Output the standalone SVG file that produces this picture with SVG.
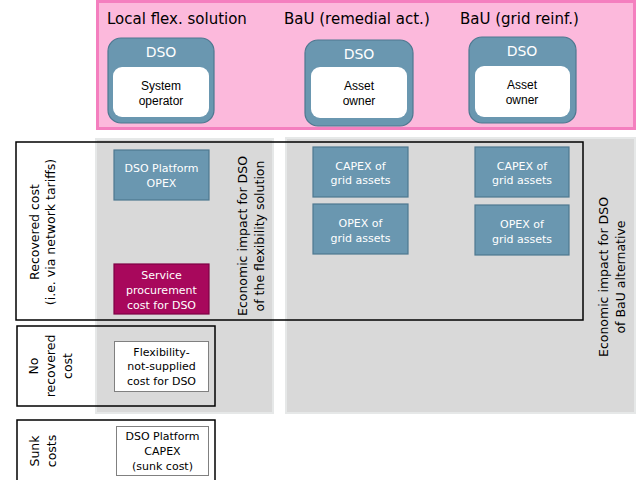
<svg xmlns="http://www.w3.org/2000/svg" width="638" height="480" viewBox="0 0 638 480">
<defs>
<style>
.hdr{font-family:"DejaVu Sans",sans-serif;font-size:15px;fill:#000}
.dso{font-family:"DejaVu Sans",sans-serif;font-size:14px;fill:#fff;text-anchor:middle}
.inner{font-family:"Liberation Sans",Arial,sans-serif;font-size:12px;fill:#000;text-anchor:middle}
.lbl{font-family:"DejaVu Sans",sans-serif;font-size:12.5px;fill:#000;text-anchor:middle}
.bt{font-family:"DejaVu Sans",sans-serif;font-size:11px;fill:#fff;text-anchor:middle}
.btk{font-family:"DejaVu Sans",sans-serif;font-size:11px;fill:#000;text-anchor:middle}
.blue{fill:#6a97b0;stroke:#4e7890;stroke-width:1.2}
.mag{fill:#a8085c;stroke:#7e0044;stroke-width:1.2}
.wbox{fill:#fff;stroke:#808080;stroke-width:1}
.col{fill:#d9d9d9;stroke:#e6e8e8;stroke-width:2}
.frame{fill:none;stroke:#000;stroke-width:1.5}
.dsobox{fill:#6a97b0;stroke:#4e7890;stroke-width:1.2}
</style>
</defs>
<rect width="638" height="480" fill="#fff"/>

<g id="header">
<rect x="97.5" y="1.5" width="537" height="127" fill="#fcb9dc" stroke="#f47fbf" stroke-width="3"/>
<text class="hdr" x="107" y="24">Local flex. solution</text>
<text class="hdr" x="284" y="24">BaU (remedial act.)</text>
<text class="hdr" x="460" y="24">BaU (grid reinf.)</text>
</g>

<g id="dso1">
<rect class="dsobox" x="108" y="38" width="106" height="85" rx="13"/>
<text class="dso" x="161" y="57">DSO</text>
<rect x="113" y="67" width="96" height="50" rx="9" fill="#fff"/>
<text class="inner" x="161" y="90">System</text>
<text class="inner" x="161" y="105">operator</text>
</g>
<g id="dso2">
<rect class="dsobox" x="305" y="40" width="108" height="86" rx="13"/>
<text class="dso" x="359" y="59">DSO</text>
<rect x="311" y="67" width="96" height="51" rx="9" fill="#fff"/>
<text class="inner" x="359" y="90">Asset</text>
<text class="inner" x="359" y="105">owner</text>
</g>
<g id="dso3">
<rect class="dsobox" x="469" y="37" width="107" height="86" rx="13"/>
<text class="dso" x="522" y="56">DSO</text>
<rect x="475" y="66" width="95" height="51" rx="9" fill="#fff"/>
<text class="inner" x="522" y="89">Asset</text>
<text class="inner" x="522" y="104">owner</text>
</g>

<g id="columns">
<rect class="col" x="96" y="139" width="177" height="274"/>
<rect class="col" x="286" y="138" width="349" height="275"/>
</g>

<g id="frames">
<rect class="frame" x="16" y="142" width="567" height="178"/>
<rect class="frame" x="17" y="326" width="198" height="80"/>
<rect class="frame" x="17" y="420" width="198" height="80"/>
</g>

<g id="row-labels">
<text class="lbl" transform="translate(39,232) rotate(-90)">Recovered cost</text>
<text class="lbl" transform="translate(55,232) rotate(-90)">(i.e. via network tariffs)</text>
<text class="lbl" transform="translate(38,366) rotate(-90)">No</text>
<text class="lbl" transform="translate(55,366) rotate(-90)">recovered</text>
<text class="lbl" transform="translate(72,366) rotate(-90)">cost</text>
<text class="lbl" transform="translate(39,451) rotate(-90)">Sunk</text>
<text class="lbl" transform="translate(56,451) rotate(-90)">costs</text>
</g>

<g id="col-labels">
<text class="lbl" transform="translate(247,236) rotate(-90)">Economic impact for DSO</text>
<text class="lbl" transform="translate(264,236) rotate(-90)">of the flexibility solution</text>
<text class="lbl" transform="translate(608,277) rotate(-90)">Economic impact for DSO</text>
<text class="lbl" transform="translate(625,277) rotate(-90)">of BaU alternative</text>
</g>

<g id="platform-opex">
<rect class="blue" x="114" y="150" width="95" height="50"/>
<text class="bt" x="161.5" y="172">DSO Platform</text>
<text class="bt" x="161.5" y="187">OPEX</text>
</g>
<g id="service-procurement">
<rect class="mag" x="114" y="264" width="95" height="50"/>
<text class="bt" x="161.5" y="279">Service</text>
<text class="bt" x="161.5" y="294">procurement</text>
<text class="bt" x="161.5" y="309">cost for DSO</text>
</g>
<g id="capex1">
<rect class="blue" x="313" y="147" width="95" height="50"/>
<text class="bt" x="360.5" y="170">CAPEX of</text>
<text class="bt" x="360.5" y="184">grid assets</text>
</g>
<g id="opex1">
<rect class="blue" x="313" y="204" width="95" height="50"/>
<text class="bt" x="360.5" y="227">OPEX of</text>
<text class="bt" x="360.5" y="242">grid assets</text>
</g>
<g id="capex2">
<rect class="blue" x="475" y="147" width="94" height="50"/>
<text class="bt" x="522" y="170">CAPEX of</text>
<text class="bt" x="522" y="184">grid assets</text>
</g>
<g id="opex2">
<rect class="blue" x="475" y="205" width="94" height="50"/>
<text class="bt" x="522" y="228">OPEX of</text>
<text class="bt" x="522" y="243">grid assets</text>
</g>
<g id="flex-not-supplied">
<rect class="wbox" x="114.5" y="341.5" width="94" height="50"/>
<text class="btk" x="161.5" y="356">Flexibility-</text>
<text class="btk" x="161.5" y="370">not-supplied</text>
<text class="btk" x="161.5" y="385">cost for DSO</text>
</g>
<g id="platform-capex">
<rect class="wbox" x="116.5" y="426.5" width="92" height="49"/>
<text class="btk" x="162.5" y="440">DSO Platform</text>
<text class="btk" x="162.5" y="455">CAPEX</text>
<text class="btk" x="162.5" y="470">(sunk cost)</text>
</g>
<g id="connectors"></g>
</svg>
